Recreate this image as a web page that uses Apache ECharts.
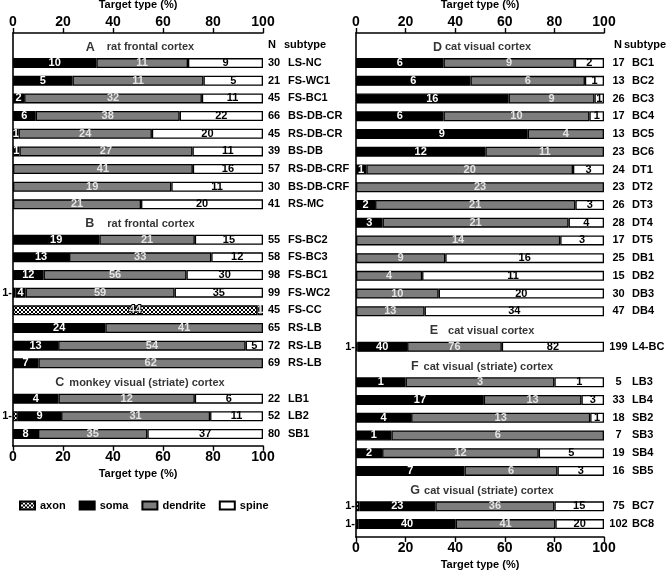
<!DOCTYPE html>
<html><head><meta charset="utf-8">
<script src="https://cdn.jsdelivr.net/npm/echarts/dist/echarts.min.js"></script>
<style>html,body{margin:0;padding:0;background:#fff}#c{width:669px;height:572px}</style>
</head><body><div id="c"></div>
<script>
// ---------- DATA (counts per target type; null = section title row) ----------
const leftSubtype = [null,'LS-NC','FS-WC1','FS-BC1','BS-DB-CR','RS-DB-CR','BS-DB','RS-DB-CRF','BS-DB-CRF','RS-MC',
  null,'FS-BC2','FS-BC3','FS-BC1','FS-WC2','FS-CC','RS-LB','RS-LB','RS-LB',
  null,'LB1','LB2','SB1'];
const leftN        = [null,30,21,45,66,45,39,57,30,41, null,55,58,98,99,45,65,72,69, null,22,52,80];
const leftAxon     = [null,0,0,0,0,0,0,0,0,0,          null,0,0,0,1,44,0,0,0,        null,0,1,0];
const leftSoma     = [null,10,5,2,6,1,1,0,0,0,         null,19,13,12,4,0,24,13,7,    null,4,9,8];
const leftDendrite = [null,11,11,32,38,24,27,41,19,21, null,21,33,56,59,1,41,54,62,  null,12,31,35];
const leftSpine    = [null,9,5,11,22,20,11,16,11,20,   null,15,12,30,35,0,0,5,0,     null,6,11,37];
const leftTitleRows    = [0, 10, 19];
const leftTitleLetters = ['A', 'B', 'C'];
const leftTitleTexts   = ['rat frontal cortex', 'rat frontal cortex', 'monkey visual (striate) cortex'];

const rightSubtype = [null,'BC1','BC2','BC3','BC4','BC5','BC6','DT1','DT2','DT3','DT4','DT5','DB1','DB2','DB3','DB4',
  null,'L4-BC', null,'LB3','LB4','SB2','SB3','SB4','SB5', null,'BC7','BC8'];
const rightN        = [null,17,13,26,17,13,23,24,23,26,28,17,25,15,30,47, null,199, null,5,33,18,7,19,16, null,75,102];
const rightAxon     = [null,0,0,0,0,0,0,0,0,0,0,0,0,0,0,0,               null,1,   null,0,0,0,0,0,0,     null,1,1];
const rightSoma     = [null,6,6,16,6,9,12,1,0,2,3,0,0,0,0,0,             null,40,  null,1,17,4,1,2,7,    null,23,40];
const rightDendrite = [null,9,6,9,10,4,11,20,23,21,21,14,9,4,10,13,      null,76,  null,3,13,13,6,12,6,  null,36,41];
const rightSpine    = [null,2,1,1,1,0,0,3,0,3,4,3,16,11,20,34,           null,82,  null,1,3,1,0,5,3,     null,15,20];
const rightTitleRows    = [0, 16, 18, 25];
const rightTitleLetters = ['D', 'E', 'F', 'G'];
const rightTitleTexts   = ['cat visual cortex', 'cat visual cortex', 'cat visual (striate) cortex', 'cat visual (striate) cortex'];

const typeNames = ['axon', 'soma', 'dendrite', 'spine'];
const xTicks = [0, 20, 40, 60, 80, 100];

// ---------- STYLE ----------
const FONT = '"Liberation Sans", Arial, Helvetica, sans-serif';
const leftTitleGaps = [12, 13, 5];
const rightTitleGaps = [3, 10, 5, 4];

const pc = document.createElement('canvas');
pc.width = 4; pc.height = 4;
const pctx = pc.getContext('2d');
pctx.fillStyle = '#fff'; pctx.fillRect(0, 0, 4, 4);
pctx.fillStyle = '#000';
[[0,0],[1,1],[2,2],[3,3],[3,0],[2,1],[1,2],[0,3]].forEach(p => pctx.fillRect(p[0], p[1], 1, 1));
const axonFill = { image: pc, repeat: 'repeat' };

const typeColors = { axon: axonFill, soma: '#000000', dendrite: '#7d7d7d', spine: '#ffffff' };
const labelColors = { axon: '#e6e6e6', soma: '#ffffff', dendrite: '#e4e4e4', spine: '#000000' };

function axisX(gridIndex, pos, offset, nameGap, show) {
  return {
    gridIndex: gridIndex, type: 'value', position: pos, min: 0, max: 100, interval: 20,
    offset: offset, show: show,
    name: 'Target type (%)', nameLocation: 'middle', nameGap: nameGap,
    nameTextStyle: { fontFamily: FONT, fontWeight: 'bold', fontSize: 11, color: '#000' },
    axisLine: { show: true, lineStyle: { color: '#000', width: 1.6 } },
    axisTick: { show: true, length: 5, lineStyle: { color: '#000', width: 1.4 } },
    axisLabel: { margin: 4, fontFamily: FONT, fontWeight: 'bold', fontSize: 14, color: '#000',
      formatter: v => xTicks.indexOf(v) >= 0 ? String(v) : '' },
    splitLine: { show: false }
  };
}

function catY(gridIndex, keys) {
  return { gridIndex: gridIndex, type: 'category', inverse: true, data: keys,
    axisLine: { show: false }, axisTick: { show: false }, axisLabel: { show: false }, splitLine: { show: false } };
}

function labelY(gridIndex, keys, N, sub, margin, nW, sPad, hPad, hW) {
  const base = { fontFamily: FONT, fontWeight: 'bold', fontSize: 11, color: '#000' };
  return { gridIndex: gridIndex, type: 'category', inverse: true, position: 'right', data: keys,
    axisLine: { show: false }, axisTick: { show: false }, splitLine: { show: false },
    axisLabel: { show: true, interval: 0, margin: margin, align: 'left',
      fontFamily: FONT, fontWeight: 'bold', fontSize: 11, color: '#000',
      formatter: (v, i) => {
        if (N[i] == null) return i === 0 ? '{h|N}{hs|subtype}' : '';
        return '{n|' + N[i] + '}{s|' + sub[i] + '}';
      },
      rich: {
        n: Object.assign({ width: nW, align: 'right' }, base),
        s: Object.assign({ align: 'left', padding: [0, 0, 0, sPad] }, base),
        h: Object.assign({ width: hW, align: 'left', padding: [0, 0, 0, hPad] }, base),
        hs: Object.assign({ align: 'left' }, base)
      }
    } };
}

function barSeries(name, counts, N, xIdx, yIdx, stack) {
  return {
    type: 'bar', name: name, stack: stack, xAxisIndex: xIdx, yAxisIndex: yIdx,
    barWidth: 10,
    itemStyle: { color: typeColors[name], borderColor: '#000', borderWidth: 1.3 },
    label: { show: true, position: 'inside', fontFamily: FONT, fontWeight: 'bold', fontSize: 11,
      color: labelColors[name],
      textBorderColor: name === 'axon' ? '#000' : 'transparent', textBorderWidth: name === 'axon' ? 2 : 0,
      formatter: p => String(p.data.count) },
    emphasis: { disabled: true },
    data: counts.map((c, i) => {
      if (c == null || c === 0) return '-';
      const item = { value: c / N[i] * 100, count: c };
      if (name === 'axon' && c === 1) {
        item.label = { position: 'left', distance: 1, formatter: '1-', color: '#000', textBorderWidth: 0 };
      }
      return item;
    })
  };
}

function titleSeries(name, rows, letters, texts, gaps, keys, xIdx, yIdx) {
  return {
    type: 'scatter', name: name, xAxisIndex: xIdx, yAxisIndex: yIdx, symbolSize: 0, silent: true,
    label: { show: true, position: 'inside', offset: [2, 2] },
    data: rows.map((r, k) => ({
      value: [50, keys[r]],
      label: {
        formatter: '{l|' + letters[k] + '}{t|' + texts[k] + '}',
        rich: {
          l: { fontFamily: FONT, fontWeight: 'bold', fontSize: 12.5, color: '#000', padding: [0, gaps[k], 0, 0] },
          t: { fontFamily: FONT, fontWeight: 'bold', fontSize: 11, color: '#000' }
        }
      }
    }))
  };
}

const keysL = leftSubtype.map((_, i) => 'L' + i);
const keysR = rightSubtype.map((_, i) => 'R' + i);

const LS = 17.66, RS = 17.73;
const gL = { left: 13, width: 250, top: 36.6, height: 23 * LS };
const gR = { left: 356, width: 248, top: 36.5, height: 28 * RS };

const option = {
  animation: false,
  backgroundColor: '#fff',
  textStyle: { fontFamily: FONT },
  grid: [
    Object.assign({ outerBoundsMode: 'none', containLabel: false }, gL),
    Object.assign({ outerBoundsMode: 'none', containLabel: false }, gR),
    { outerBoundsMode: 'none', left: 13, width: 250, top: 33, height: 413 },
    { outerBoundsMode: 'none', left: 356, width: 248, top: 33, height: 504 }
  ],
  xAxis: [
    axisX(0, 'top', 3.6, 18, true),
    axisX(0, 'bottom', 3, 20, true),
    axisX(1, 'top', 3.5, 18, true),
    axisX(1, 'bottom', 4, 20, true),
    axisX(2, 'bottom', 0, 20, false),
    axisX(3, 'bottom', 0, 20, false)
  ],
  yAxis: [
    catY(0, keysL),
    labelY(0, keysL, leftN, leftSubtype, 5, 12, 8, 0, 16),
    catY(1, keysR),
    labelY(1, keysR, rightN, rightSubtype, 6, 17, 5, 4, 10),
    { gridIndex: 2, type: 'value', min: 0, max: 1, axisLine: { show: true, lineStyle: { color: '#000', width: 1.6 } },
      axisTick: { show: false }, axisLabel: { show: false }, splitLine: { show: false } },
    { gridIndex: 3, type: 'value', min: 0, max: 1, axisLine: { show: true, lineStyle: { color: '#000', width: 1.6 } },
      axisTick: { show: false }, axisLabel: { show: false }, splitLine: { show: false } }
  ],
  legend: {
    data: typeNames, left: 14, top: 495, itemWidth: 15, itemHeight: 8, itemGap: 13,
    icon: 'rect', selectedMode: false,
    textStyle: { fontFamily: FONT, fontWeight: 'bold', fontSize: 11, color: '#000' }
  },
  series: [
    barSeries('axon', leftAxon, leftN, 1, 0, 'L'),
    barSeries('soma', leftSoma, leftN, 1, 0, 'L'),
    barSeries('dendrite', leftDendrite, leftN, 1, 0, 'L'),
    barSeries('spine', leftSpine, leftN, 1, 0, 'L'),
    barSeries('axon', rightAxon, rightN, 3, 2, 'R'),
    barSeries('soma', rightSoma, rightN, 3, 2, 'R'),
    barSeries('dendrite', rightDendrite, rightN, 3, 2, 'R'),
    barSeries('spine', rightSpine, rightN, 3, 2, 'R'),
    titleSeries('titlesL', leftTitleRows, leftTitleLetters, leftTitleTexts, leftTitleGaps, keysL, 1, 0),
    titleSeries('titlesR', rightTitleRows, rightTitleLetters, rightTitleTexts, rightTitleGaps, keysR, 3, 2)
  ]
};

const chart = echarts.init(document.getElementById('c'), null, { renderer: 'canvas' });
chart.setOption(option);
</script>
</body></html>
